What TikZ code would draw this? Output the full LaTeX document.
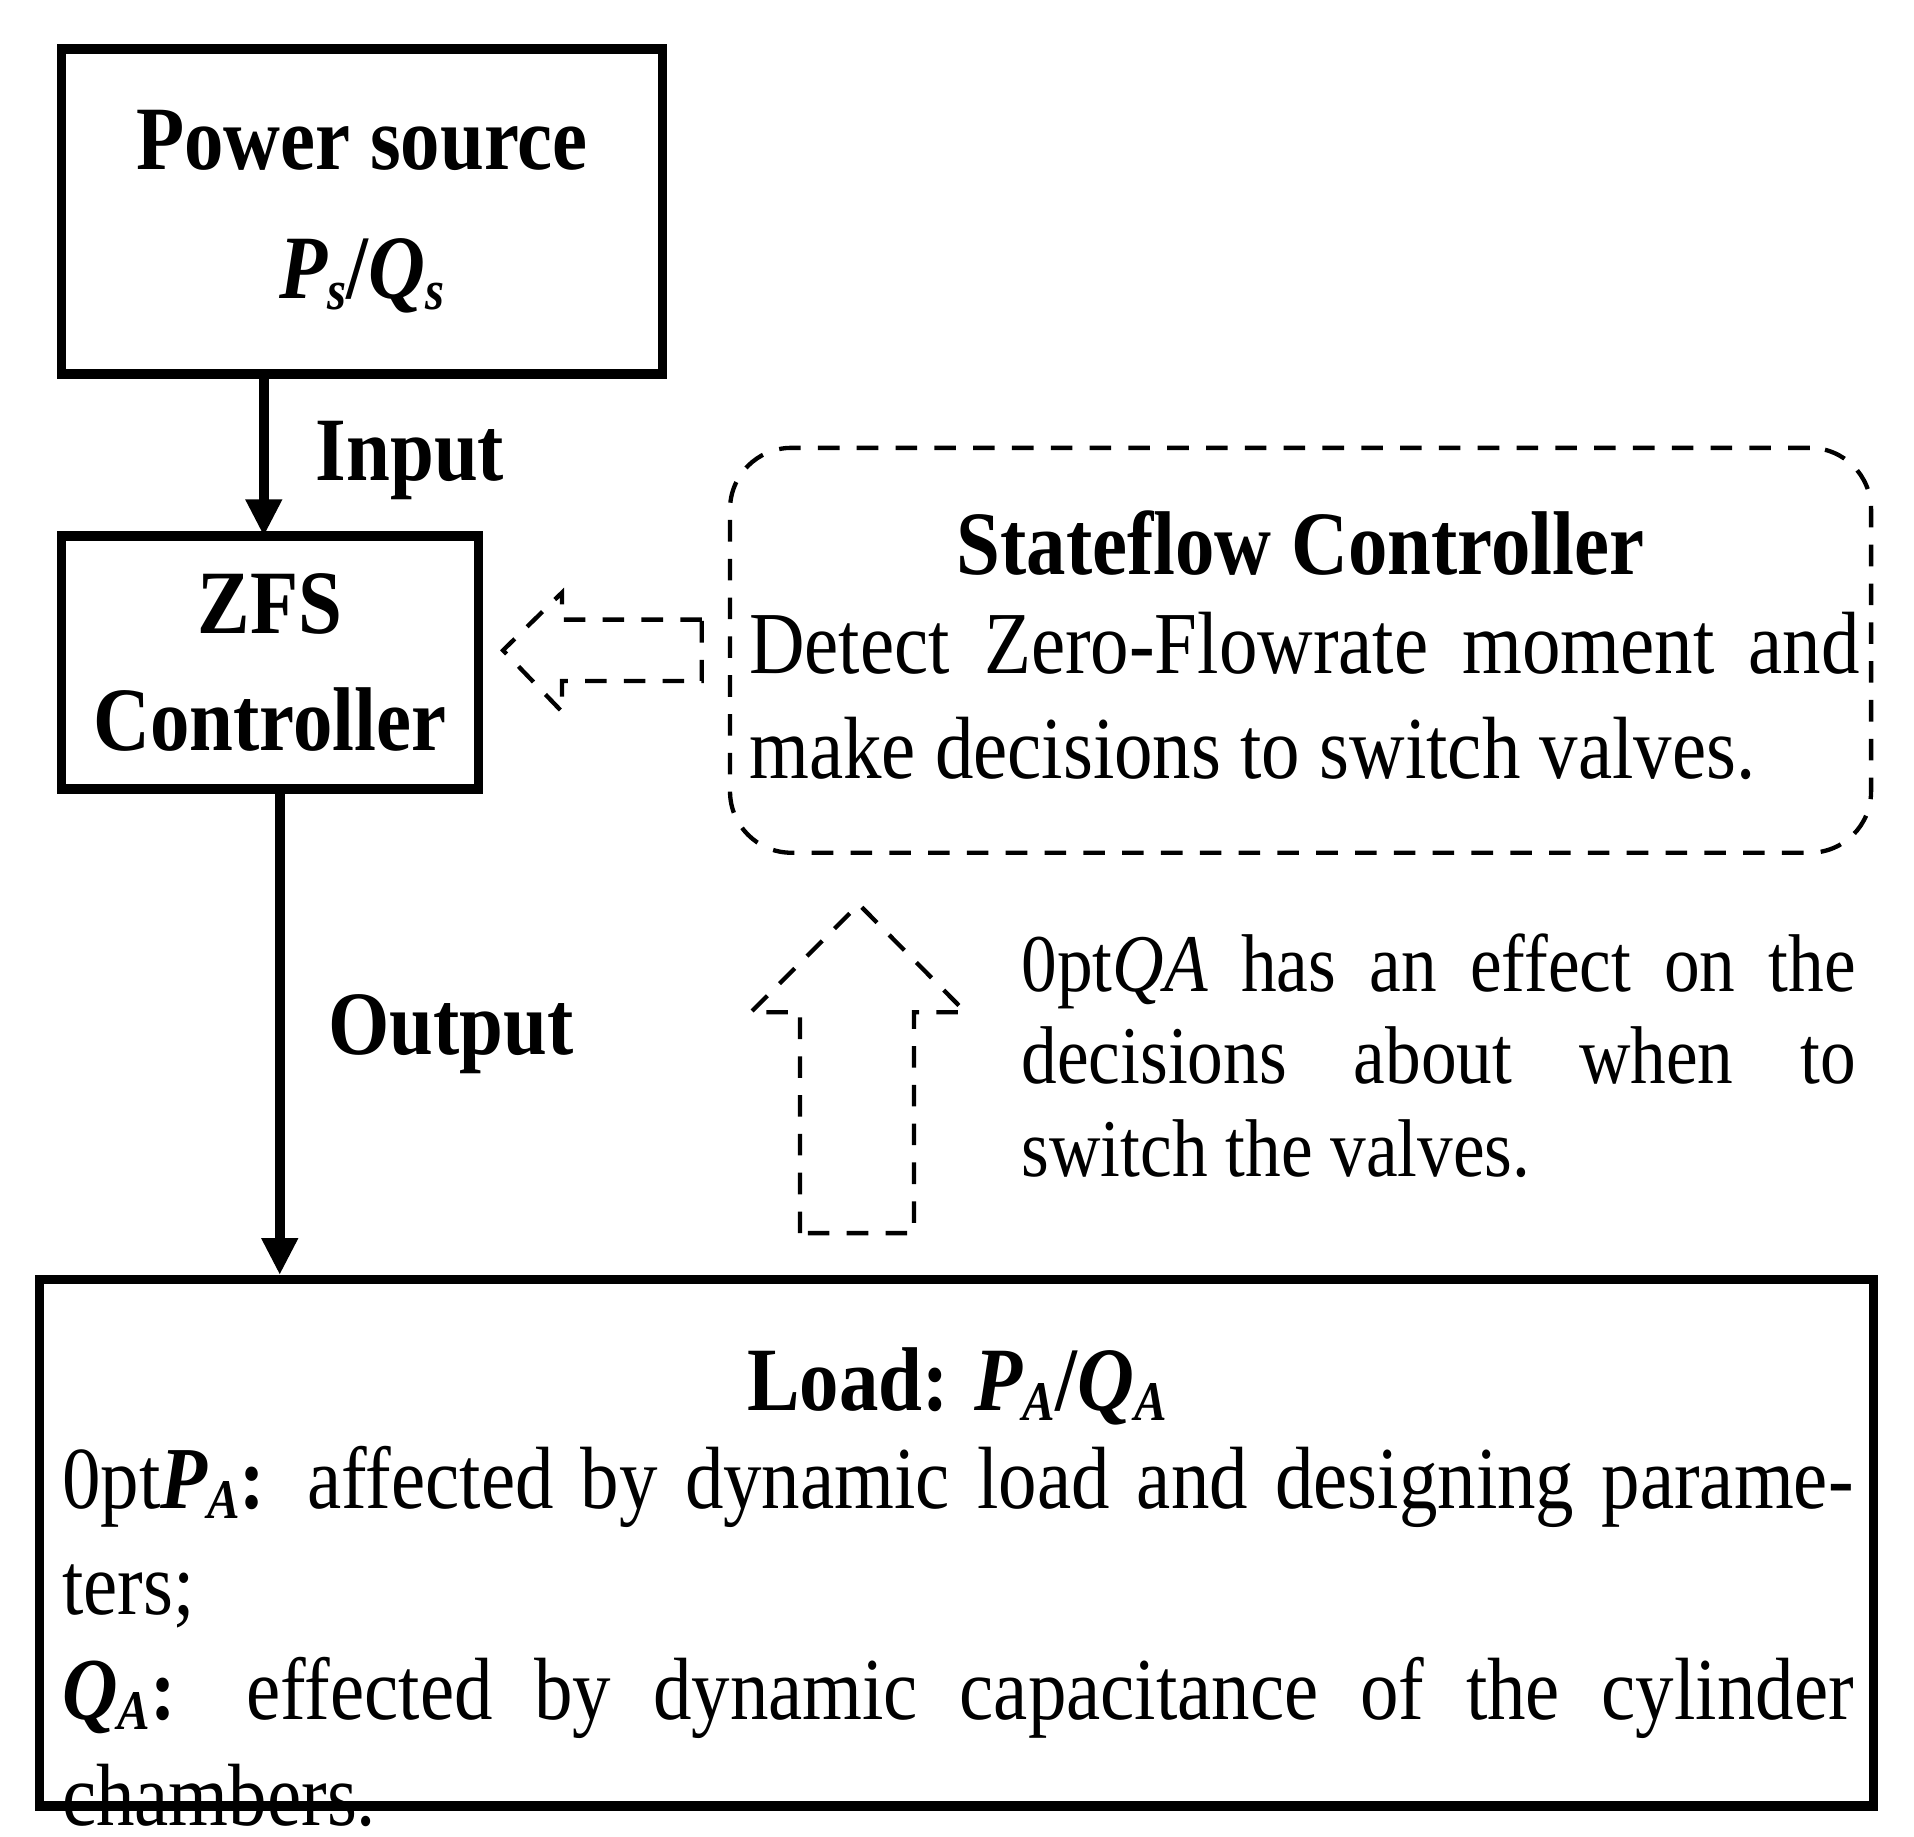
\documentclass[tikz,border=0pt]{standalone}
\usepackage{fontspec}
\setmainfont[FakeStretch=0.87]{Liberation Serif}
\usetikzlibrary{arrows.meta}
\newcommand{\sbs}[2]{\textit{#1\raisebox{-0.25ex}{\fontsize{13}{13}\selectfont #2}}}

\begin{document}
\begin{tikzpicture}
  [x=1cm, y=1cm,
    block/.style={rectangle, draw=black, line width=2.2pt, align=center, font=\fontsize{21}{30}\selectfont\bfseries},
    lbl/.style={font=\fontsize{21}{25}\selectfont\bfseries, anchor=west},
    flow/.style={line width=2.4pt, -{Triangle[length=0.3cm, width=0.28cm]}},
    hollow/.style={draw=black, line width=1pt, dashed, dash pattern=on 5pt off 4pt}
  ]
  \useasboundingbox (0,0) rectangle (15.6,-14.97);

  % blocks
  \node[block, minimum width=4.9cm, minimum height=2.65cm] (src) at (2.95,-1.725)
    {Power source\\\sbs{P}{s}/\sbs{Q}{s}};
  \node[block, minimum width=3.4cm, minimum height=2.06cm, font=\fontsize{21}{27}\selectfont\bfseries] (zfs) at (2.2,-5.4)
    {ZFS\\Controller};
  \node[block, minimum width=14.95cm, minimum height=4.29cm] (load) at (7.795,-12.575) {};
  \node[font=\fontsize{21}{25}\selectfont\bfseries] (ltitle) at (7.8,-11.3) {Load: \sbs{P}{A}/\sbs{Q}{A}};
  \node[anchor=north west, text width=14.6cm, align=justify, inner sep=0pt,
        font=\fontsize{20.5}{24.5}\selectfont\hyphenpenalty=10000] (ltext) at (0.5,-11.78)
    {\textbf{\sbs{P}{A}:} affected by dynamic load and designing parameters;\linebreak
     \textbf{\sbs{Q}{A}:} effected by dynamic capacitance of the cylinder\linebreak chambers.};

  % stateflow box
  \node[hollow, rounded corners=0.5cm, minimum width=9.3cm, minimum height=3.3cm] (sfc) at (10.6,-5.3) {};
  \node[font=\fontsize{21}{25}\selectfont\bfseries] (stitle) at (10.6,-4.43) {Stateflow Controller};
  \node[anchor=north west, text width=9.05cm, align=justify, inner sep=0pt,
        font=\fontsize{20.5}{24.5}\selectfont] (stext) at (6.1,-4.98)
    {Detect Zero-Flowrate moment and make decisions to switch valves.};

  % effect note
  \node[anchor=north west, text width=6.8cm, align=justify, inner sep=0pt,
        font=\fontsize{19}{21.5}\selectfont\hyphenpenalty=10000] (note) at (8.32,-7.6)
    {\textit{QA} has an effect on the\linebreak decisions about when to\linebreak switch the valves.};

  % arrows
  \draw[flow] (src.south -| 2.15,0) -- (2.15,-4.37) coordinate (zin);
  \node[lbl] (inp) at (2.45,-3.75) {Input};
  \draw[flow] (zfs.south -| 2.28,0) -- (load.north -| 2.28,0);
  \node[lbl] (outp) at (2.55,-8.43) {Output};

  % hollow arrows
  \draw[hollow] (5.72,-5.05) -- (4.58,-5.05) -- (4.58,-4.83) -- (4.10,-5.30)
    -- (4.58,-5.80) -- (4.58,-5.55) -- (5.72,-5.55) -- cycle;
  \draw[hollow] (6.52,-10.05) -- (6.52,-8.25) -- (6.12,-8.25) -- (7.00,-7.37)
    -- (7.87,-8.25) -- (7.45,-8.25) -- (7.45,-10.05) -- cycle;
\end{tikzpicture}
\end{document}
